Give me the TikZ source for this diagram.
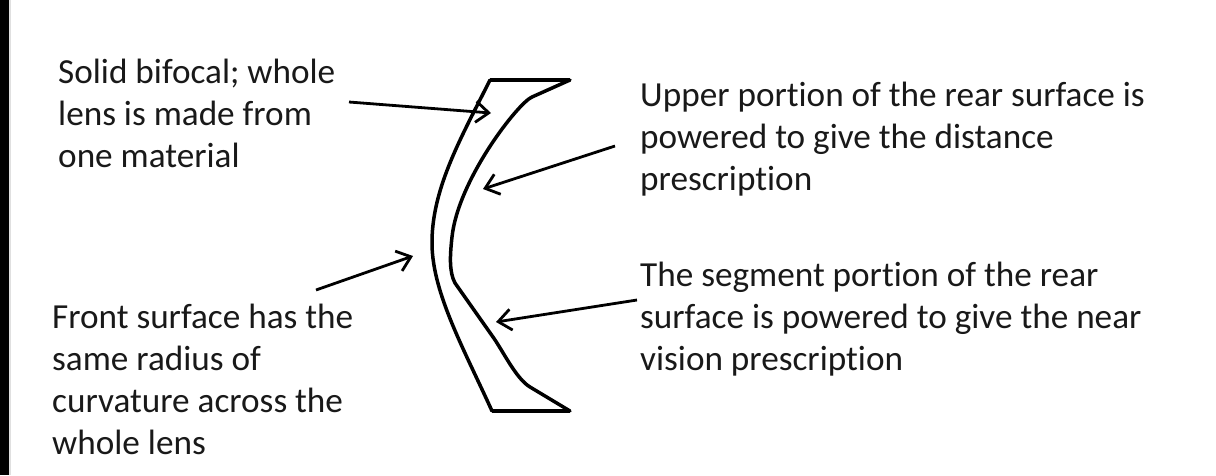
\documentclass[tikz,border=0pt]{standalone}
\usepackage{fontspec}
\setmainfont{Carlito}[Ligatures=NoCommon]
\usetikzlibrary{arrows.meta}
\tikzset{
  lbl/.style={anchor=north west,inner sep=0pt,align=left,font=\fontsize{35.2}{42}\selectfont,text=black!90},
  lens/.style={draw=black,line width=3.5pt,line join=round,line cap=round},
  lensflat/.style={draw=black,line width=4.5pt},
  pointer/.style={draw=black,line width=2.8pt,-{Straight Barb[length=13pt,width=21pt,line width=2.8pt]}}
}
\begin{document}
\begin{tikzpicture}[x=1pt,y=-1pt]
\useasboundingbox (0,0) rectangle (1216,475);
\fill[white] (0,0) rectangle (1216,475);
\fill[black] (0,0) rectangle (9,475);
\fill[black!12] (9,0) rectangle (11,475);
% lens
\coordinate (tl) at (490,80);
\coordinate (tr) at (570,80);
\coordinate (bl) at (492,411);
\coordinate (br) at (570,411);
\draw[lens] (tl) .. controls (462,136) and (433,186) .. (432,240)
  .. controls (431,290) and (462,345) .. (bl);
\draw[lens] (tr) -- (532,97) .. controls (518,103) and (458,180) .. (452,237)
  .. controls (450,255) and (449,272) .. (455,283)
  -- (493,337) .. controls (503,351) and (516,378.6) .. (530,387) -- (br);
\draw[lensflat] (tl) -- (tr);
\draw[lensflat] (bl) -- (br);
% labels
\node[lbl] (solid) at (58,59) {Solid bifocal; whole\\lens is made from\\one material};
\node[lbl] (upper) at (640,82) {Upper portion of the rear surface is\\powered to give the distance\\prescription};
\node[lbl] (segment) at (640,262) {The segment portion of the rear\\surface is powered to give the near\\vision prescription};
\node[lbl] (front) at (52,303.5) {Front surface has the\\same radius of\\curvature across the\\whole lens};
% connectors
\coordinate (a1s) at (349,102); \coordinate (a1e) at (491,113);
\coordinate (a2s) at (615,146); \coordinate (a2e) at (483,189);
\coordinate (a3s) at (316,290); \coordinate (a3e) at (413,256);
\coordinate (a4s) at (637,300); \coordinate (a4e) at (496,322);
\draw[pointer] (a1s) -- (a1e);
\draw[pointer] (a2s) -- (a2e);
\draw[pointer] (a3s) -- (a3e);
\draw[pointer] (a4s) -- (a4e);
\end{tikzpicture}
\end{document}
